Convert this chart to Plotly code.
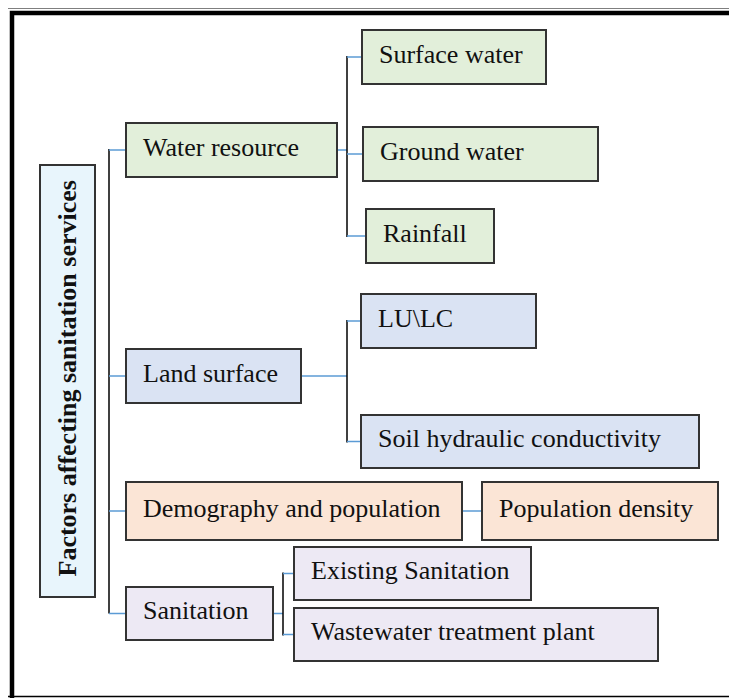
import plotly.graph_objects as go

# ---- data: labels and hierarchy ----
root_label = "Factors affecting sanitation services"
groups = ["Water resource", "Land surface", "Demography and population", "Sanitation"]
children = {
    "Water resource": ["Surface water", "Ground water", "Rainfall"],
    "Land surface": ["LU\\LC", "Soil hydraulic conductivity"],
    "Demography and population": ["Population density"],
    "Sanitation": ["Existing Sanitation", "Wastewater treatment plant"],
}

# ---- layout (pixel boxes x0, y0, x1, y1) ----
W, H = 737, 698
OFF = 8  # page body margin compensation
root_box = (40, 165, 95, 597)
group_boxes = {
    "Water resource": (126, 123, 337, 177),
    "Land surface": (126, 349, 301, 403),
    "Demography and population": (126, 482, 462, 540),
    "Sanitation": (126, 587, 273, 640),
}
child_boxes = {
    "Surface water": (362, 30, 546, 84),
    "Ground water": (363, 127, 598, 181),
    "Rainfall": (366, 209, 494, 263),
    "LU\\LC": (361, 294, 536, 348),
    "Soil hydraulic conductivity": (361, 415, 699, 468),
    "Population density": (482, 482, 718, 540),
    "Existing Sanitation": (294, 547, 531, 600),
    "Wastewater treatment plant": (294, 608, 658, 661),
}
fills = {
    "Water resource": "#E2EFDA",
    "Land surface": "#DAE3F3",
    "Demography and population": "#FBE5D6",
    "Sanitation": "#EDE9F4",
}
branch_x = {"Water resource": 347, "Land surface": 347, "Sanitation": 283}

BLUE = "#5B9BD5"
BORDER = "#333333"
FONT = "Liberation Serif, Times New Roman, serif"
FS = 26

shapes = []
annotations = []


def line(x0, y0, x1, y1, color, width):
    shapes.append(dict(type="line", xref="x", yref="y", x0=x0, y0=y0, x1=x1, y1=y1,
                       line=dict(color=color, width=width)))


def box(b, fill, label, pad=15):
    x0, y0, x1, y1 = b
    shapes.append(dict(type="rect", xref="x", yref="y", x0=x0, y0=y0, x1=x1, y1=y1,
                       fillcolor=fill, line=dict(color=BORDER, width=2), layer="above"))
    annotations.append(dict(x=x0 + pad, y=(y0 + y1) / 2 - 3, xref="x", yref="y",
                            text=label, showarrow=False, xanchor="left", yanchor="middle",
                            font=dict(family=FONT, size=FS, color="#111111")))


def cy(b):
    return (b[1] + b[3]) / 2


# frame
line(7, 8, W + 20, 8, "#000000", 1.2)
line(7, 8, 7, 697, "#000000", 1.2)
line(7, 696.5, W + 20, 696.5, "#000000", 1.5)
shapes.append(dict(type="rect", xref="x", yref="y", x0=12, y0=13, x1=W + 20, y1=H + 20,
                   fillcolor="rgba(0,0,0,0)", line=dict(color="#000000", width=4.5)))

# trunk
trunk_x = 109
ys = [cy(group_boxes[g]) for g in groups]
line(trunk_x, ys[0] - 1, trunk_x, ys[-1], "#000000", 1.5)
for g in groups:
    line(trunk_x, cy(group_boxes[g]), group_boxes[g][0], cy(group_boxes[g]), BLUE, 1.5)

# branches
for g in groups:
    gb = group_boxes[g]
    kids = children[g]
    if g in branch_x:
        bx = branch_x[g]
        kys = [cy(child_boxes[k]) for k in kids]
        line(gb[2], cy(gb), bx, cy(gb), BLUE, 1.5)
        line(bx, min(kys) - 1, bx, max(kys) + 1, "#000000", 1.5)
        for k in kids:
            line(bx, cy(child_boxes[k]), child_boxes[k][0], cy(child_boxes[k]), BLUE, 1.5)
    else:
        k = kids[0]
        line(gb[2], cy(gb), child_boxes[k][0], cy(gb), BLUE, 1.5)

# root
rx0, ry0, rx1, ry1 = root_box
shapes.append(dict(type="rect", xref="x", yref="y", x0=rx0, y0=ry0, x1=rx1, y1=ry1,
                   fillcolor="#E8F5FC", line=dict(color=BORDER, width=2), layer="above"))
annotations.append(dict(x=(rx0 + rx1) / 2 - 1, y=(ry0 + ry1) / 2 - 2, xref="x", yref="y",
                        text="<b>" + root_label + "</b>", showarrow=False, textangle=-90,
                        xanchor="center", yanchor="middle",
                        font=dict(family=FONT, size=FS, color="#111111")))

for g in groups:
    box(group_boxes[g], fills[g], g)
    for k in children[g]:
        box(child_boxes[k], fills[g], k)

fig = go.Figure()
fig.add_trace(go.Scatter(x=[OFF, W], y=[OFF, H], mode="markers",
                         marker=dict(opacity=0), hoverinfo="skip", showlegend=False))
fig.update_layout(
    width=W - OFF, height=H - OFF, margin=dict(l=0, r=0, t=0, b=0),
    plot_bgcolor="white", paper_bgcolor="white",
    xaxis=dict(range=[OFF, W], visible=False, fixedrange=True),
    yaxis=dict(range=[H, OFF], visible=False, fixedrange=True),
    shapes=shapes, annotations=annotations, showlegend=False,
)
fig.write_html("out.html")
